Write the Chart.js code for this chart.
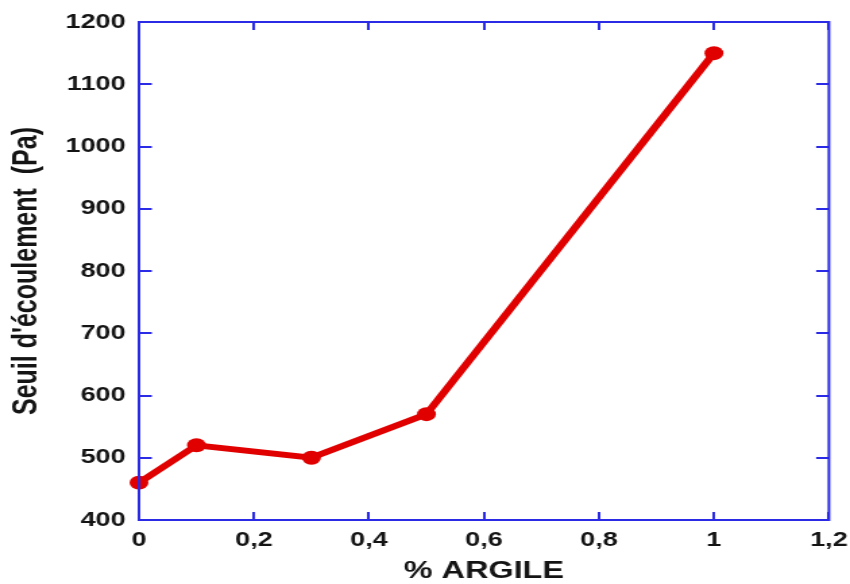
<!DOCTYPE html>
<html>
<head>
<meta charset="utf-8">
<script src="https://cdn.jsdelivr.net/npm/chart.js@4/dist/chart.umd.min.js"></script>
<style>
  html, body { margin: 0; padding: 0; background: #fff; overflow: hidden; }
  #wrap { width: 850px; height: 584px; overflow: hidden; }
  /* the figure is drawn on a narrower canvas and widened horizontally */
  #c { display: block; transform-origin: 0 0; transform: scaleX(1.3492); }
</style>
</head>
<body>
<div id="wrap"><canvas id="c" width="630" height="584"></canvas></div>
<script>
// Clay content (%) versus yield stress (Pa)
const argile = [0, 0.1, 0.3, 0.5, 1];
const seuil = [460, 520, 500, 570, 1150];
const xTicks = [0, 0.2, 0.4, 0.6, 0.8, 1, 1.2];
const yTicks = [400, 500, 600, 700, 800, 900, 1000, 1100, 1200];

const frameBlue = '#2b2be6';
const lineRed = '#e00000';
const inkColor = '#141414';
const family = "'Liberation Sans', Arial, sans-serif";
const tickFont = { family, size: 20, weight: 'bold' };

const fmt = v => String(Math.round(v * 10) / 10).replace('.', ',');

// Frame plus short inward tick marks on all four sides
const inwardTicks = {
  id: 'inwardTicks',
  afterDatasetsDraw(chart) {
    const { ctx, chartArea: a, scales } = chart;
    ctx.save();
    ctx.strokeStyle = frameBlue;
    ctx.lineWidth = 2;
    ctx.beginPath();
    xTicks.forEach(v => {
      const px = Math.round(scales.x.getPixelForValue(v));
      ctx.moveTo(px, a.bottom); ctx.lineTo(px, a.bottom - 8);
      ctx.moveTo(px, a.top); ctx.lineTo(px, a.top + 8);
    });
    yTicks.forEach(v => {
      const py = Math.round(scales.y.getPixelForValue(v));
      ctx.moveTo(a.left, py); ctx.lineTo(a.left + 9.5, py);
      ctx.moveTo(a.right, py); ctx.lineTo(a.right - 9.5, py);
    });
    ctx.stroke();
    ctx.strokeRect(a.left, a.top, a.right - a.left, a.bottom - a.top);
    ctx.restore();
  }
};

const noGrid = { display: false, drawTicks: false };

new Chart(document.getElementById('c'), {
  type: 'scatter',
  data: {
    datasets: [{
      data: argile.map((x, i) => ({ x, y: seuil[i] })),
      showLine: true,
      borderColor: lineRed,
      backgroundColor: lineRed,
      borderWidth: 6,
      pointRadius: 7,
      pointHoverRadius: 7,
      pointBorderWidth: 0,
      clip: false
    }]
  },
  options: {
    responsive: false,
    animation: false,
    events: [],
    layout: { padding: 0 },
    plugins: { legend: { display: false }, tooltip: { enabled: false } },
    scales: {
      x: {
        type: 'linear', position: 'bottom', min: 0, max: 1.2,
        afterBuildTicks: s => { s.ticks = xTicks.map(v => ({ value: v })); },
        afterFit: s => { s.height = 64; s.paddingLeft = 0; s.paddingRight = 0; },
        grid: noGrid,
        border: { display: false },
        ticks: { color: inkColor, font: tickFont, padding: 8, maxRotation: 0, callback: v => fmt(v) },
        title: {
          display: true, text: '% ARGILE', color: inkColor,
          font: { family, size: 24, weight: 'bold' },
          padding: { top: 0, bottom: -2 }
        }
      },
      x2: {
        type: 'linear', position: 'top', min: 0, max: 1.2,
        afterFit: s => { s.height = 19; s.paddingLeft = 0; s.paddingRight = 0; },
        grid: noGrid, border: { display: false },
        ticks: { display: false }
      },
      y: {
        type: 'linear', position: 'left', min: 400, max: 1200,
        afterBuildTicks: s => { s.ticks = yTicks.map(v => ({ value: v })); },
        afterFit: s => { s.width = 103; },
        grid: noGrid,
        border: { display: false },
        ticks: { color: inkColor, font: tickFont, padding: 10, callback: v => String(v) },
        title: {
          display: true, text: "Seuil d'écoulement  (Pa)", color: inkColor,
          font: { family, size: 25, weight: 'bold' },
          padding: { top: 5, bottom: 0 }
        }
      },
      y2: {
        type: 'linear', position: 'right', min: 400, max: 1200,
        afterFit: s => { s.width = 15.6; },
        grid: noGrid, border: { display: false },
        ticks: { display: false }
      }
    }
  },
  plugins: [inwardTicks]
});
</script>
</body>
</html>
